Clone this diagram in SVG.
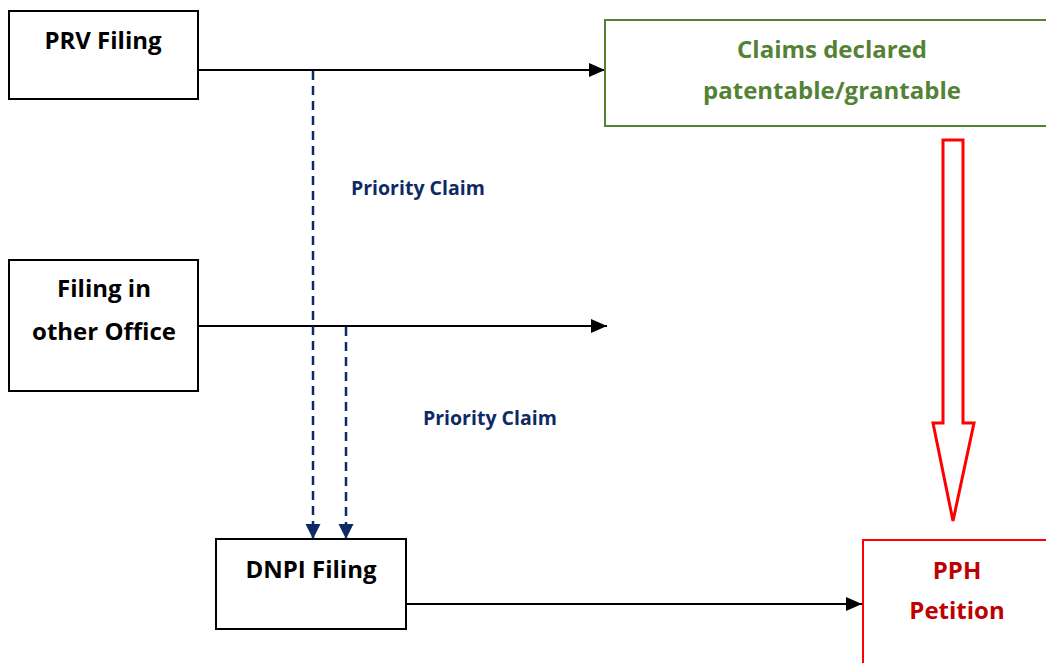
<svg xmlns="http://www.w3.org/2000/svg" width="1046" height="663" viewBox="0 0 1046 663">
<style>
.box{fill:#fff;stroke:#000;stroke-width:2}
.t{font-family:"Open Sans","Liberation Sans",sans-serif;font-weight:bold;font-size:24px;text-anchor:middle}
.pc{font-family:"Open Sans","Liberation Sans",sans-serif;font-weight:bold;font-size:19.5px;fill:#0E2A66}
.ln{stroke:#000;stroke-width:2;fill:none}
.dl{stroke:#0E2A66;stroke-width:2.5;fill:none;stroke-dasharray:9,6}
</style>
<defs>
<marker id="ah" markerUnits="userSpaceOnUse" markerWidth="16" markerHeight="16" refX="16" refY="8" orient="auto">
<path d="M0,1 L16,8 L0,15 Z" fill="#000"/>
</marker>
<marker id="ahb" markerUnits="userSpaceOnUse" markerWidth="16" markerHeight="16" refX="15" refY="8" orient="auto">
<path d="M0,0.5 L15,8 L0,15.5 Z" fill="#0E2A66"/>
</marker>
</defs>
<rect width="1046" height="663" fill="#fff"/>
<g id="connectors">
<line class="ln" x1="198" y1="70" x2="605" y2="70" marker-end="url(#ah)"/>
<line class="ln" x1="198" y1="326" x2="607" y2="326" marker-end="url(#ah)"/>
<line class="ln" x1="406" y1="604" x2="862" y2="604" marker-end="url(#ah)"/>
<line class="dl" x1="313" y1="71" x2="313" y2="539" marker-end="url(#ahb)"/>
<line class="dl" x1="346" y1="327" x2="346" y2="539" marker-end="url(#ahb)"/>
<path d="M943,140 H963 V423 H974 L953,521 L933,423 H943 Z" fill="#fff" stroke="#FF0000" stroke-width="3"/>
<text class="pc" x="351" y="195">Priority Claim</text>
<text class="pc" x="423" y="425">Priority Claim</text>
</g>
<g id="prv">
<rect class="box" x="9" y="11" width="189" height="88"/>
<text class="t" x="103" y="49">PRV Filing</text>
</g>
<g id="claims">
<rect x="605" y="20" width="450" height="106" fill="#fff" stroke="#548235" stroke-width="2"/>
<text class="t" x="832" y="58" fill="#548235">Claims declared</text>
<text class="t" x="832" y="99" fill="#548235">patentable/grantable</text>
</g>
<g id="other">
<rect class="box" x="9" y="260" width="189" height="131"/>
<text class="t" x="104" y="297">Filing in</text>
<text class="t" x="104" y="340">other Office</text>
</g>
<g id="dnpi">
<rect class="box" x="216" y="539" width="190" height="90"/>
<text class="t" x="311" y="578">DNPI Filing</text>
</g>
<g id="pph">
<rect x="863" y="540" width="200" height="140" fill="#fff" stroke="#FF0000" stroke-width="2"/>
<text class="t" x="957" y="579" fill="#C00000">PPH</text>
<text class="t" x="957" y="619" fill="#C00000">Petition</text>
</g>
</svg>
